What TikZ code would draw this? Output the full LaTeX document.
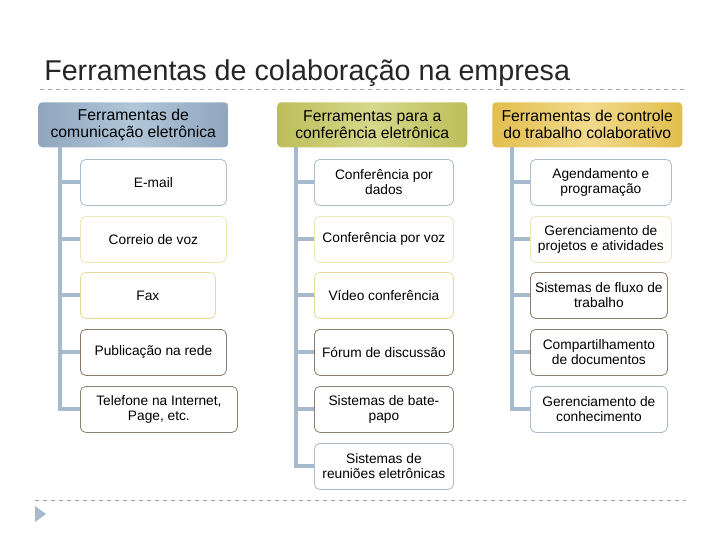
\documentclass[tikz,border=0pt]{standalone}
\usepackage{fontspec}
\setmainfont{Liberation Sans}
\begin{document}
\begin{tikzpicture}[x=0.75pt,y=-0.75pt,
 head/.style={rounded corners=3pt,minimum width=190*0.75pt,minimum height=45*0.75pt,align=center,font=\fontsize{11.8}{12.6}\selectfont,inner sep=0pt,anchor=north west},
 item/.style={rounded corners=4pt,draw,line width=0.6pt,fill=white,minimum height=46*0.75pt,align=center,font=\fontsize{10.3}{11.3}\selectfont,inner sep=1pt,anchor=north west},
 trunk/.style={draw=tr,line width=3pt},
 dashline/.style={draw=black!35,dashed,line width=0.6pt}]
\definecolor{tr}{HTML}{A7B9CC}
\definecolor{b1}{HTML}{A9BCCD}\definecolor{b2}{HTML}{EDE8B8}\definecolor{b3}{HTML}{E6DC98}
\definecolor{b4}{HTML}{8A7A66}\definecolor{b5}{HTML}{8C8070}\definecolor{b6}{HTML}{A9BCCD}
\definecolor{h1a}{HTML}{8FA6BE}\definecolor{h1b}{HTML}{B2C6D9}
\definecolor{h2a}{HTML}{BDBE5A}\definecolor{h2b}{HTML}{D6D88A}
\definecolor{h3a}{HTML}{E2BE4E}\definecolor{h3b}{HTML}{F2DA8C}
\useasboundingbox (0,0) rectangle (720,540);
\node[anchor=base west,font=\fontsize{21.5}{23}\selectfont,text=black!85,inner sep=0pt] (title) at (44,80) {Ferramentas de colaboração na empresa};
\coordinate (d1a) at (40,89); \coordinate (d1b) at (686,89);
\draw[dashline] (d1a) -- (d1b);
\coordinate (d2a) at (35,500); \coordinate (d2b) at (686,500);
\draw[dashline] (d2a) -- (d2b);
\fill[tr] (35,506) -- (46,514) -- (35,522) -- cycle;
% headers
\node[head,left color=h1a,right color=h1a,middle color=h1b] (h1) at (38,102) {Ferramentas de\\comunicação eletrônica};
\node[head,left color=h2a,right color=h2a,middle color=h2b] (h2) at (277,102) {Ferramentas para a\\conferência eletrônica};
\node[head,left color=h3a,right color=h3a,middle color=h3b] (h3) at (492,102) {Ferramentas de controle\\do trabalho colaborativo};
% column 1
\node[item,draw=b1,minimum width=146*0.75pt] (a1) at (80,159) {E-mail};
\node[item,draw=b2,minimum width=146*0.75pt] (a2) at (80,216) {Correio de voz};
\node[item,draw=b3,minimum width=135*0.75pt] (a3) at (80,272) {Fax};
\node[item,draw=b4,minimum width=146*0.75pt] (a4) at (80,329) {Publicação na rede};
\node[item,draw=b5,minimum width=157*0.75pt] (a5) at (80,386) {Telefone na Internet,\\Page, etc.};
% column 2
\node[item,draw=b1,minimum width=139*0.75pt] (c1) at (314,159) {Conferência por\\dados};
\node[item,draw=b2,minimum width=139*0.75pt] (c2) at (314,216) {Conferência por voz};
\node[item,draw=b3,minimum width=139*0.75pt] (c3) at (314,272) {Vídeo conferência};
\node[item,draw=b4,minimum width=139*0.75pt] (c4) at (314,329) {Fórum de discussão};
\node[item,draw=b5,minimum width=139*0.75pt] (c5) at (314,386) {Sistemas de bate-\\papo};
\node[item,draw=b6,minimum width=139*0.75pt] (c6) at (314,443) {Sistemas de\\reuniões eletrônicas};
% column 3
\node[item,draw=b1,minimum width=141*0.75pt] (e1) at (530,159) {Agendamento e\\programação};
\node[item,draw=b2,minimum width=141*0.75pt] (e2) at (530,216) {Gerenciamento de\\projetos e atividades};
\node[item,draw=b4,minimum width=137*0.75pt] (e3) at (530,272) {Sistemas de fluxo de\\trabalho};
\node[item,draw=b5,minimum width=137*0.75pt] (e4) at (530,329) {Compartilhamento\\de documentos};
\node[item,draw=b6,minimum width=137*0.75pt] (e5) at (530,386) {Gerenciamento de\\conhecimento};
% trunks
\coordinate (t1) at (60,147);
\draw[trunk] (t1) |- (a5.west);
\foreach \n in {a1,a2,a3,a4} \draw[trunk] (t1 |- \n.west) -- (\n.west);
\coordinate (t2) at (296,147);
\draw[trunk] (t2) |- (c6.west);
\foreach \n in {c1,c2,c3,c4,c5} \draw[trunk] (t2 |- \n.west) -- (\n.west);
\coordinate (t3) at (512,147);
\draw[trunk] (t3) |- (e5.west);
\foreach \n in {e1,e2,e3,e4} \draw[trunk] (t3 |- \n.west) -- (\n.west);
\end{tikzpicture}
\end{document}
